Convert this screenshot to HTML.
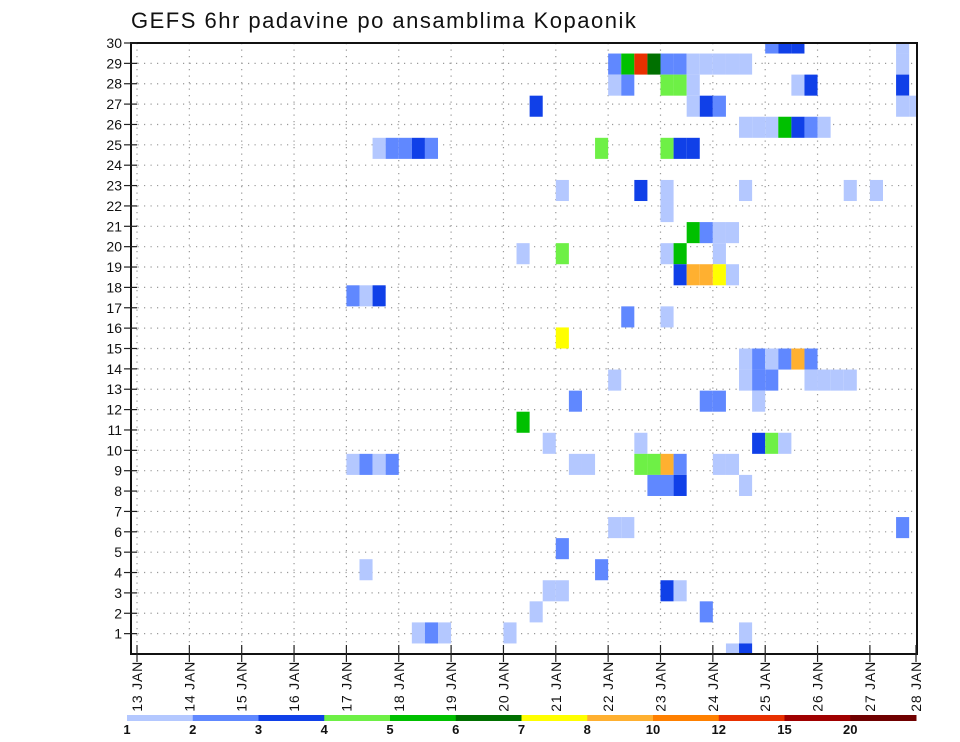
<!DOCTYPE html>
<html><head><meta charset="utf-8"><title>GEFS 6hr padavine po ansamblima Kopaonik</title>
<style>
html,body{margin:0;padding:0;background:#fff;}
svg{display:block;font-family:"Liberation Sans","DejaVu Sans",sans-serif;}
</style></head>
<body>
<svg id="chart" width="960" height="742" viewBox="0 0 960 742">
<defs><clipPath id="plotclip"><rect x="131" y="43" width="786" height="611"/></clipPath></defs>
<text x="131" y="28" font-size="22" letter-spacing="1.5" fill="#111">GEFS 6hr padavine po ansamblima Kopaonik</text>
<g id="grid"></g>
<g id="cells" clip-path="url(#plotclip)"></g>
<rect x="131" y="43" width="786" height="611" fill="none" stroke="#111" stroke-width="2"/>
<g id="yaxis"></g>
<g id="xaxis"></g>
<g id="colorbar"></g>
</svg>
<script>
// ---- data ----
const dayLabels = ["13","14","15","16","17","18","19","20","21","22","23","24","25","26","27","28"];
const memberLabels = [1,2,3,4,5,6,7,8,9,10,11,12,13,14,15,16,17,18,19,20,21,22,23,24,25,26,27,28,29,30];
const levelBounds = [1,2,3,4,5,6,7,8,10,12,15,20];
const levelColors = ["#b4c8ff","#6088ff","#1040e8","#6ef046","#00c000","#007000","#ffff00","#ffb030","#ff8000","#e83000","#a00000","#700000"];
// cell row (0 = top member row), 6-hour step index from 13 JAN 00Z, precipitation (mm)
const cellRow = [
0,0,0,0,
1,1,1,1,1,1,1,1,1,1,1,1,
2,2,2,2,2,2,2,2,
3,3,3,3,3,3,
4,4,4,4,4,4,4,
5,5,5,5,5,5,5,5,5,
7,7,7,7,7,7,
8,
9,9,9,9,
10,10,10,10,10,
11,11,11,11,11,
12,12,12,
13,13,
14,
15,15,15,15,15,15,
16,16,16,16,16,16,16,16,
17,17,17,17,
18,
19,19,19,19,19,
20,20,20,20,20,20,20,20,20,20,20,20,
21,21,21,21,
23,23,23,
24,
25,25,
26,26,26,26,
27,27,
28,28,28,28,28,
29,29];
const cellStep = [
48,49,50,58,
36,37,38,39,40,41,42,43,44,45,46,58,
36,37,40,41,42,50,51,58,
30,42,43,44,58,59,
46,47,48,49,50,51,52,
18,19,20,21,22,35,40,41,42,
32,38,40,46,54,56,
40,
42,43,44,45,
29,32,40,41,44,
41,42,43,44,45,
16,17,18,
37,40,
32,
46,47,48,49,50,51,
36,46,47,48,51,52,53,54,
33,43,44,47,
29,
31,38,47,48,49,
16,17,18,19,33,34,38,39,40,41,44,45,
39,40,41,46,
36,37,58,
32,
17,35,
31,32,40,41,
30,43,
21,22,23,28,46,
45,46];
const cellValue = [
2,3,3,1,
2,5,12,6,2,2,1,1,1,1,1,1,
1,2,4,4,1,1,3,3,
3,1,3,2,1,1,
1,1,1,5,3,2,1,
1,2,2,3,2,4,4,3,3,
1,3,1,1,1,1,
1,
5,2,1,1,
1,4,1,5,1,
3,8,8,7,1,
2,1,3,
2,1,
7,
1,2,1,2,8,2,
1,1,2,2,1,1,1,1,
2,2,2,1,
5,
1,1,3,4,1,
1,2,1,2,1,1,4,4,8,2,1,1,
2,2,3,1,
1,1,2,
2,
1,2,
1,1,3,1,
1,2,
1,2,1,1,1,
1,3];

// ---- geometry ----
const NS="http://www.w3.org/2000/svg";
const L=131,R=917,T=43,B=654;
const x0=137, dayW=52.35, stepW=dayW/4;
const cellH=(B-T)/29;
function xDay(d){return x0+d*dayW;}
function xStep(s){return x0+s*stepW;}
function yCellCenter(r){return T+r*cellH;}
function yMember(m){return B-m*(B-T)/30;}
function colorFor(v){let c=levelColors[0];for(let j=0;j<levelBounds.length;j++){if(v>=levelBounds[j])c=levelColors[j];}return c;}
function mk(tag,attrs,parent){const e=document.createElementNS(NS,tag);for(const k in attrs)e.setAttribute(k,attrs[k]);parent.appendChild(e);return e;}

const grid=document.getElementById('grid');
memberLabels.forEach(m=>{
  if(m>=30)return;
  const y=yMember(m);
  const ln=mk('line',{x1:L,x2:R,y1:y,y2:y,stroke:'#999','stroke-width':1.2,'stroke-dasharray':'1.2,5.3'},grid);
  
  
});
dayLabels.forEach((d,i)=>{
  const x=xDay(i);
  if(x>R-1)return;
  const ln=mk('line',{x1:x,x2:x,y1:T,y2:B,stroke:'#999','stroke-width':1.2,'stroke-dasharray':'1.2,5.3'},grid);
  
  
});

const cells=document.getElementById('cells');
for(let n=0;n<cellRow.length;n++){
  const yc=yCellCenter(cellRow[n]);
  const r=mk('rect',{x:xStep(cellStep[n]),y:yc-cellH/2,width:stepW,height:cellH,fill:colorFor(cellValue[n])},cells);
  
  
}

const ya=document.getElementById('yaxis');
memberLabels.forEach(m=>{
  const y=yMember(m);
  const tk=mk('line',{x1:124,x2:137,y1:y,y2:y,stroke:'#222','stroke-width':1.2},ya);
  
  
  const t=mk('text',{x:122,y:y+5,'text-anchor':'end','font-size':14,fill:'#111'},ya);
  t.textContent=m;
  
  
});

const xa=document.getElementById('xaxis');
mk('line',{x1:137,x2:137,y1:645,y2:662,stroke:'#d04040','stroke-width':1},xa);
dayLabels.forEach((d,i)=>{
  let x=xDay(i);
  if(x>R) x=R-1;
  const tk=mk('line',{x1:x,x2:x,y1:645,y2:662,stroke:'#222','stroke-width':1.2},xa);
  
  
  const t=mk('text',{x:0,y:0,'text-anchor':'end','font-size':14,'letter-spacing':'0.8',fill:'#111',transform:'translate('+(x+5)+',661) rotate(-90)'},xa);
  t.textContent=d+' JAN';
  
  
});

const cb=document.getElementById('colorbar');
const cbL=127,cbR=916,segW=(cbR-cbL)/levelColors.length;
levelColors.forEach((c,j)=>{
  const r=mk('rect',{x:cbL+j*segW,y:715,width:segW+0.5,height:6,fill:c},cb);
  
  
});
levelBounds.forEach((b,j)=>{
  const t=mk('text',{x:cbL+j*segW,y:734,'text-anchor':'middle','font-size':13,'font-weight':'bold',fill:'#111'},cb);
  t.textContent=b;
  
  
});
</script>
</body></html>
